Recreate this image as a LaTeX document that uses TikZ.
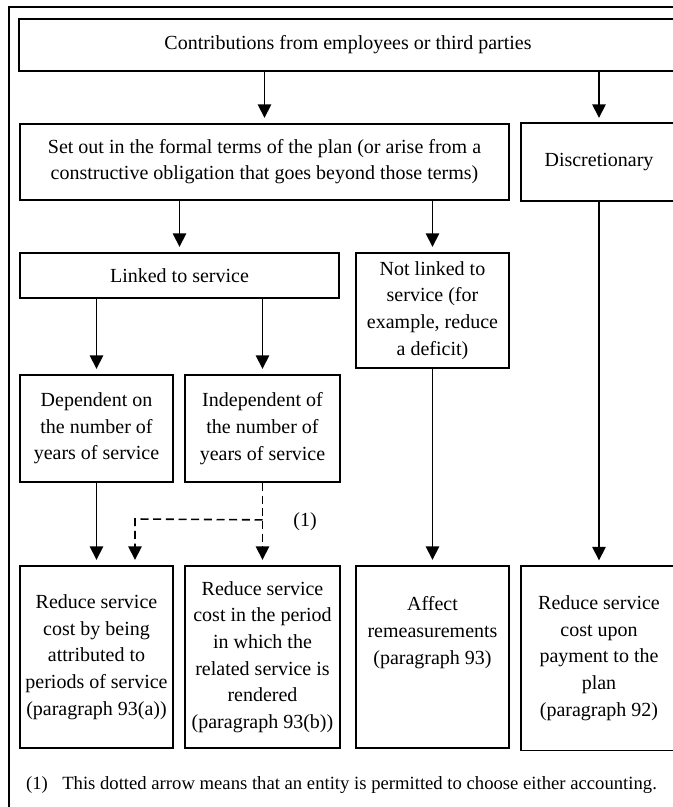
\documentclass[tikz,border=0pt]{standalone}
\usepackage{fontspec}
\setmainfont{Liberation Serif}
\usetikzlibrary{arrows.meta,calc}
\tikzset{
  box/.style={draw,line width=1.3pt,align=center,inner sep=2pt,
    font=\fontsize{15}{20}\selectfont},
  openbox/.style={box,draw=none},
  arrow/.style={-{Triangle[width=10pt,length=10pt]},line width=1.2pt,shorten >=4pt},
  dasharrow/.style={arrow,dash pattern=on 6pt off 3.5pt}
}
\begin{document}
\begin{tikzpicture}[x=0.75pt,y=-0.75pt]
  \useasboundingbox (0,0) rectangle (673,807);
  \clip (0,0) rectangle (673,807);
  \draw[line width=1.3pt] (9.3,820) -- (9.3,7.3) -- (700,7.3);
  % top row
  \node[openbox,minimum width=492pt,minimum height=37.5pt] (contrib) at (348,45)
    {Contributions from employees or third parties};
  \draw[line width=1.3pt] (contrib.north west) rectangle ([xshift=200pt]contrib.south east);
  % second row
  \node[box,minimum width=366.75pt,minimum height=57pt,
    font=\fontsize{15}{19.5}\selectfont] (formal) at (264.5,162)
    {Set out in the formal terms of the plan (or arise from a\\
     constructive obligation that goes beyond those terms)};
  \node[openbox,minimum width=115.5pt,minimum height=57pt] (disc) at (599,162)
    {Discretionary};
  \draw[line width=1.3pt] (disc.north west) rectangle ([xshift=200pt]disc.south east);
  % third row
  \node[box,minimum width=239.25pt,minimum height=33.75pt] (linked) at (179.5,275.5)
    {Linked to service};
  \node[box,minimum width=114.75pt,minimum height=86.25pt] (notlinked) at (432.5,310.5)
    {Not linked to\\service (for\\example, reduce\\a deficit)};
  \node[box,minimum width=114.75pt,minimum height=80.25pt] (dep) at (96.5,428.5)
    {Dependent on\\the number of\\years of service};
  \node[box,minimum width=116.25pt,minimum height=80.25pt] (indep) at (262.5,428.5)
    {Independent of\\the number of\\years of service};
  % bottom row
  \node[box,minimum width=114.75pt,minimum height=136.5pt] (red1) at (96.5,657)
    {Reduce service\\cost by being\\attributed to\\periods of service\\(paragraph 93(a))};
  \node[box,minimum width=116.25pt,minimum height=136.5pt] (red2) at (262.5,657)
    {Reduce service\\cost in the period\\in which the\\related service is\\rendered\\(paragraph 93(b))};
  \node[box,minimum width=114.75pt,minimum height=136.5pt] (affect) at (432.5,657)
    {Affect\\remeasurements\\(paragraph 93)\\~\\~};
  \node[openbox,minimum width=115.5pt,minimum height=137.25pt] (red4) at (599,658)
    {Reduce service\\cost upon\\payment to the\\plan\\(paragraph 92)};
  \draw[line width=1.3pt] (red4.north west) rectangle ([xshift=200pt]red4.south east);
  % connectors
  \foreach \a/\b in {contrib/formal,contrib/disc,formal/linked,formal/notlinked,
                     linked/dep,linked/indep,dep/red1,notlinked/affect,disc/red4} {
    \draw[arrow] (\a.south -| \b.north) -- (\b.north);
  }
  \coordinate (split) at ($(indep.south)+(0,37)$);
  \coordinate (bend) at (135,519);
  \draw[dasharrow] (indep.south) -- (red2.north);
  \draw[dasharrow] (split) -- (bend) -- (bend |- red1.north);
  \node[font=\fontsize{15}{20}\selectfont] (note) at (305,522) {(1)};
  % footnote
  \node[font=\fontsize{14}{18}\selectfont] (fnmark) at (37,785) {(1)};
  \node[font=\fontsize{14}{18}\selectfont,anchor=west,inner sep=0pt] (fntext) at (62,785)
    {This dotted arrow means that an entity is permitted to choose either accounting.};
\end{tikzpicture}
\end{document}
